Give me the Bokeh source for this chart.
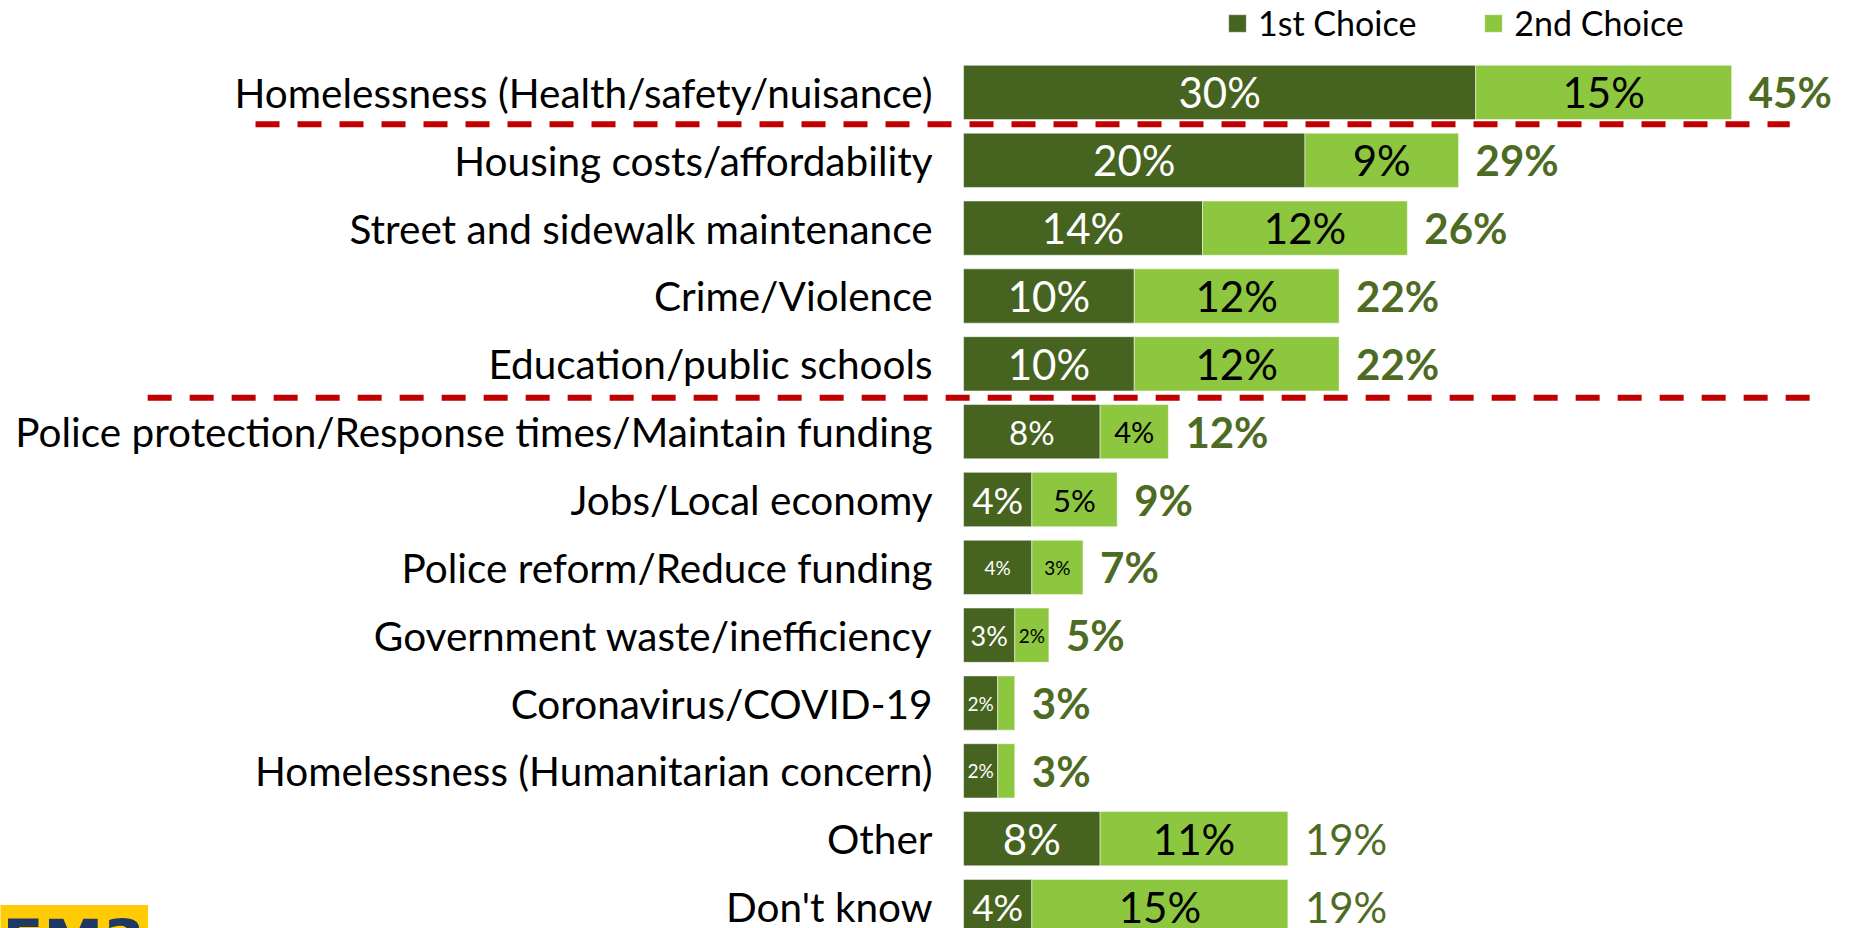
from bokeh.plotting import figure
from bokeh.models import Range1d, ColumnDataSource
from bokeh.core.properties import value
from bokeh.embed import file_html
from bokeh.resources import INLINE

categories = [
    "Homelessness (Health/safety/nuisance)",
    "Housing costs/affordability",
    "Street and sidewalk maintenance",
    "Crime/Violence",
    "Education/public schools",
    "Police protection/Response times/Maintain funding",
    "Jobs/Local economy",
    "Police reform/Reduce funding",
    "Government waste/inefficiency",
    "Coronavirus/COVID-19",
    "Homelessness (Humanitarian concern)",
    "Other",
    "Don't know",
]
first_choice = [30, 20, 14, 10, 10, 8, 4, 4, 3, 2, 2, 8, 4]
second_choice = [15, 9, 12, 12, 12, 4, 5, 3, 2, 1, 1, 11, 15]
totals = [45, 29, 26, 22, 22, 12, 9, 7, 5, 3, 3, 19, 19]
first_labels = ["30%", "20%", "14%", "10%", "10%", "8%", "4%", "4%", "3%", "2%", "2%", "8%", "4%"]
second_labels = ["15%", "9%", "12%", "12%", "12%", "4%", "5%", "3%", "2%", "", "", "11%", "15%"]
total_labels = ["45%", "29%", "26%", "22%", "22%", "12%", "9%", "7%", "5%", "3%", "3%", "19%", "19%"]
series_names = ["1st Choice", "2nd Choice"]
divider_rows = [0.468, 4.5]

# styles (kept separate from data)
first_sizes = ["42px"] * 5 + ["33px", "37px", "19px", "27px", "19px", "19px", "42px", "37px"]
second_sizes = ["42px"] * 5 + ["29px", "31px", "19px", "19px", "19px", "19px", "42px", "42px"]
total_styles = ["bold"] * 11 + ["normal", "normal"]

DARK = "#476320"
LIGHT = "#8DC63F"
TOTAL_COLOR = "#4E6B24"
FONT = "Lato"

idx = list(range(len(categories)))
src = ColumnDataSource(dict(
    y=idx, cat=categories, c1=first_choice, c2=second_choice, tot=totals,
    mid1=[a / 2 for a in first_choice],
    mid2=[a + b / 2 for a, b in zip(first_choice, second_choice)],
    l1=first_labels, l2=second_labels, lt=total_labels,
    s1=first_sizes, s2=second_sizes, ts=total_styles,
))

p = figure(width=1850, height=928, output_backend="svg", toolbar_location=None,
           x_range=Range1d(-56.42, 51.96), y_range=Range1d(12.324, -1.356),
           x_axis_location=None, y_axis_location=None, min_border=0)
p.grid.visible = False
p.outline_line_color = None

renderers = p.hbar_stack(["c1", "c2"], y="y", height=0.8, color=[DARK, LIGHT],
                         line_color="white", line_width=1, line_alpha=0.5,
                         source=src, legend_label=series_names)

# category labels
p.text(x=0, y="y", text="cat", source=src, x_offset=-31, text_align="right",
       text_baseline="middle", text_font=value(FONT), text_font_size="40.5px",
       text_color="#000000")

# inner labels
p.text(x="mid1", y="y", text="l1", source=src, text_align="center", text_baseline="middle",
       text_font=value(FONT), text_font_size="s1", text_color="white")
p.text(x="mid2", y="y", text="l2", source=src, text_align="center", text_baseline="middle",
       text_font=value(FONT), text_font_size="s2", text_color="black")

# totals
p.text(x="tot", y="y", text="lt", source=src, x_offset=17, text_align="left",
       text_baseline="middle", text_font=value(FONT), text_font_size="42px",
       text_font_style="ts", text_color=TOTAL_COLOR)

# dashed dividers
p.segment(x0=[-41.48, -47.8], x1=[48.4, 49.91], y0=divider_rows, y1=divider_rows,
          line_color="#C00000", line_width=6, line_dash="24 18")

# logo fragment
p.quad(left=[-60], right=[-47.8], top=[11.985], bottom=[13], color="#FFCB05")
p.text(x=[-56.3], y=[12.0], text=["FM3"], text_baseline="top", text_align="left",
       text_font=value("DejaVu Sans"), text_font_size="60px", text_font_style="bold",
       text_color="#1F3864")

lg = p.legend[0]
lg.orientation = "horizontal"
lg.location = (1226, 885)
lg.glyph_width = 22
lg.glyph_height = 22
lg.label_standoff = 10
lg.spacing = 66
lg.padding = 0
lg.margin = 0
lg.border_line_alpha = 0
lg.background_fill_alpha = 0
lg.label_text_font = FONT
lg.label_text_font_size = "34px"
lg.label_text_color = "#000000"

open("out.html", "w").write(file_html(p, INLINE))
